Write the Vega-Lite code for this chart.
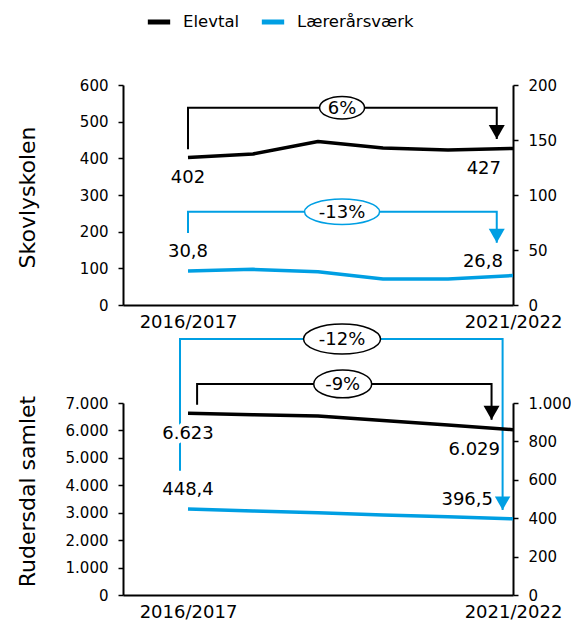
{
  "$schema": "https://vega.github.io/schema/vega-lite/v6.json",
  "padding": {"left": 16, "top": 8, "right": 0, "bottom": 0},
  "config": {
    "font": "DejaVu Sans",
    "view": {"stroke": null},
    "locale": {"number": {"decimal": ",", "thousands": ".", "grouping": [3], "currency": ["", " kr."]}},
    "axis": {"grid": false, "domainColor": "black", "tickColor": "black", "labelColor": "black", "titleColor": "black", "domainWidth": 2, "tickWidth": 1.5, "labelFontSize": 15, "titleFontSize": 22, "titleFontWeight": "normal", "tickSize": 5, "labelPadding": 10},
    "text": {"fontSize": 18, "color": "black"}
  },
  "datasets": {
    "skovly": [
      {"serie": "Elevtal", "year": 2016, "value": 402},
      {"serie": "Elevtal", "year": 2017, "value": 412},
      {"serie": "Elevtal", "year": 2018, "value": 446},
      {"serie": "Elevtal", "year": 2019, "value": 428},
      {"serie": "Elevtal", "year": 2020, "value": 423},
      {"serie": "Elevtal", "year": 2021, "value": 427},
      {"serie": "Lærerårsværk", "year": 2016, "value": 30.8},
      {"serie": "Lærerårsværk", "year": 2017, "value": 32.4},
      {"serie": "Lærerårsværk", "year": 2018, "value": 30.3},
      {"serie": "Lærerårsværk", "year": 2019, "value": 23.6},
      {"serie": "Lærerårsværk", "year": 2020, "value": 23.7},
      {"serie": "Lærerårsværk", "year": 2021, "value": 26.8}
    ],
    "ruder": [
      {"serie": "Elevtal", "year": 2016, "value": 6623},
      {"serie": "Elevtal", "year": 2017, "value": 6575},
      {"serie": "Elevtal", "year": 2018, "value": 6530},
      {"serie": "Elevtal", "year": 2019, "value": 6363},
      {"serie": "Elevtal", "year": 2020, "value": 6196},
      {"serie": "Elevtal", "year": 2021, "value": 6029},
      {"serie": "Lærerårsværk", "year": 2016, "value": 448.4},
      {"serie": "Lærerårsværk", "year": 2017, "value": 438},
      {"serie": "Lærerårsværk", "year": 2018, "value": 428},
      {"serie": "Lærerårsværk", "year": 2019, "value": 417},
      {"serie": "Lærerårsværk", "year": 2020, "value": 407},
      {"serie": "Lærerårsværk", "year": 2021, "value": 396.5}
    ]
  },
  "bounds": "flush",
  "spacing": 98,
  "vconcat": [
    {
      "width": 390,
      "height": 220,
      "encoding": {
        "x": {"field": "year", "type": "quantitative", "scale": {"domain": [2015, 2021], "nice": false, "zero": false}, "axis": {"values": [2016, 2021], "labelExpr": "datum.value + '/' + (datum.value + 1)", "ticks": false, "labelFontSize": 18, "labelPadding": 8, "title": null, "labelFlush": false, "labelOverlap": false}}
      },
      "resolve": {"scale": {"y": "independent"}},
      "layer": [
        {
          "encoding": {
            "y": {"field": "value", "type": "quantitative", "scale": {"domain": [0, 600], "nice": false}, "axis": {"orient": "left", "values": [0, 100, 200, 300, 400, 500, 600], "format": ",.0f", "labelOverlap": false, "title": "Skovlyskolen", "titleX": -96, "titleY": 112, "titleBaseline": "middle", "titleAngle": 270}}
          },
          "layer": [
            {
              "data": {"name": "skovly"},
              "transform": [{"filter": "datum.serie === 'Elevtal'"}],
              "mark": {"type": "line", "strokeWidth": 3.5, "strokeJoin": "round"},
              "encoding": {
                "color": {"field": "serie", "type": "nominal", "scale": {"domain": ["Elevtal", "Lærerårsværk"], "range": ["#000000", "#009FE3"]}, "legend": {"title": null, "orient": "none", "legendX": 22, "legendY": -77, "direction": "horizontal", "symbolType": "stroke", "symbolStrokeWidth": 5, "symbolSize": 500, "labelFontSize": 16.5, "labelColor": "black", "columnPadding": 11, "labelOffset": 10, "padding": 0}}
              }
            },
            {
              "data": {"values": [{"k": 1, "year": 2016, "value": 425}, {"k": 2, "year": 2016, "value": 538}, {"k": 3, "year": 2020.75, "value": 538}, {"k": 4, "year": 2020.75, "value": 453}]},
              "mark": {"type": "line", "color": "black", "strokeWidth": 2, "strokeJoin": "miter"},
              "encoding": {"order": {"field": "k"}}
            },
            {
              "data": {"values": [{"year": 2020.75, "value": 453}]},
              "mark": {"type": "point", "shape": "M -1 -1.75 L 1 -1.75 L 0 0 Z", "size": 256, "filled": true, "color": "black", "opacity": 1, "strokeWidth": 0},
              "encoding": {}
            },
            {
              "data": {"values": [{"year": 2018.37, "value": 538, "label": "6%"}]},
              "mark": {"type": "point", "shape": "M 1 0 C 1 0.276 0.552 0.5 0 0.5 C -0.552 0.5 -1 0.276 -1 0 C -1 -0.276 -0.552 -0.5 0 -0.5 C 0.552 -0.5 1 -0.276 1 0 Z", "size": 2025, "filled": true, "fill": "white", "stroke": "black", "strokeWidth": 1.5, "opacity": 1},
              "encoding": {}
            },
            {
              "data": {"values": [{"year": 2018.37, "value": 538, "label": "6%"}]},
              "mark": {"type": "text", "fontSize": 18, "align": "center", "baseline": "middle", "dy": 1},
              "encoding": {"text": {"field": "label"}}
            },
            {
              "data": {"name": "skovly"},
              "transform": [{"filter": "datum.serie === 'Elevtal' && datum.year === 2016"}],
              "mark": {"type": "text", "fontSize": 18, "align": "center", "baseline": "middle", "dy": 20},
              "encoding": {"text": {"field": "value", "format": ",.0f"}}
            },
            {
              "data": {"name": "skovly"},
              "transform": [{"filter": "datum.serie === 'Elevtal' && datum.year === 2021"}],
              "mark": {"type": "text", "fontSize": 18, "align": "right", "baseline": "middle", "dx": -12, "dy": 21},
              "encoding": {"text": {"field": "value", "format": ",.0f"}}
            }
          ]
        },
        {
          "encoding": {
            "y": {"field": "value", "type": "quantitative", "scale": {"domain": [0, 200], "nice": false}, "axis": {"orient": "right", "values": [0, 50, 100, 150, 200], "format": ",.0f", "labelOverlap": false, "title": null}}
          },
          "layer": [
            {
              "data": {"name": "skovly"},
              "transform": [{"filter": "datum.serie === 'Lærerårsværk'"}],
              "mark": {"type": "line", "strokeWidth": 3.5, "strokeJoin": "round"},
              "encoding": {
                "color": {"field": "serie", "type": "nominal", "scale": {"domain": ["Elevtal", "Lærerårsværk"], "range": ["#000000", "#009FE3"]}}
              }
            },
            {
              "data": {"values": [{"k": 1, "year": 2016, "value": 65.5}, {"k": 2, "year": 2016, "value": 84.8}, {"k": 3, "year": 2020.75, "value": 84.8}, {"k": 4, "year": 2020.75, "value": 56.6}]},
              "mark": {"type": "line", "color": "#009FE3", "strokeWidth": 2, "strokeJoin": "miter"},
              "encoding": {"order": {"field": "k"}}
            },
            {
              "data": {"values": [{"year": 2020.75, "value": 56.6}]},
              "mark": {"type": "point", "shape": "M -1 -1.75 L 1 -1.75 L 0 0 Z", "size": 256, "filled": true, "color": "#009FE3", "opacity": 1, "strokeWidth": 0},
              "encoding": {}
            },
            {
              "data": {"values": [{"year": 2018.37, "value": 84.8, "label": "-13%"}]},
              "mark": {"type": "point", "shape": "M 1 0 C 1 0.188 0.552 0.34 0 0.34 C -0.552 0.34 -1 0.188 -1 0 C -1 -0.188 -0.552 -0.34 0 -0.34 C 0.552 -0.34 1 -0.188 1 0 Z", "size": 5625, "filled": true, "fill": "white", "stroke": "#009FE3", "strokeWidth": 1.5, "opacity": 1},
              "encoding": {}
            },
            {
              "data": {"values": [{"year": 2018.37, "value": 84.8, "label": "-13%"}]},
              "mark": {"type": "text", "fontSize": 18, "align": "center", "baseline": "middle", "dy": 1},
              "encoding": {"text": {"field": "label"}}
            },
            {
              "data": {"name": "skovly"},
              "transform": [{"filter": "datum.serie === 'Lærerårsværk' && datum.year === 2016"}],
              "mark": {"type": "text", "fontSize": 18, "align": "center", "baseline": "middle", "dy": -19},
              "encoding": {"text": {"field": "value", "format": ",.1f"}}
            },
            {
              "data": {"name": "skovly"},
              "transform": [{"filter": "datum.serie === 'Lærerårsværk' && datum.year === 2021"}],
              "mark": {"type": "text", "fontSize": 18, "align": "right", "baseline": "middle", "dx": -10, "dy": -14},
              "encoding": {"text": {"field": "value", "format": ",.1f"}}
            }
          ]
        }
      ]
    },
    {
      "width": 390,
      "height": 192,
      "encoding": {
        "x": {"field": "year", "type": "quantitative", "scale": {"domain": [2015, 2021], "nice": false, "zero": false}, "axis": {"values": [2016, 2021], "labelExpr": "datum.value + '/' + (datum.value + 1)", "ticks": false, "labelFontSize": 18, "labelPadding": 8, "title": null, "labelFlush": false, "labelOverlap": false}}
      },
      "resolve": {"scale": {"y": "independent"}},
      "layer": [
        {
          "encoding": {
            "y": {"field": "value", "type": "quantitative", "scale": {"domain": [0, 1000], "nice": false}, "axis": {"orient": "right", "values": [0, 200, 400, 600, 800, 1000], "format": ",.0f", "labelOverlap": false, "title": null}}
          },
          "layer": [
            {
              "data": {"name": "ruder"},
              "transform": [{"filter": "datum.serie === 'Lærerårsværk'"}],
              "mark": {"type": "line", "strokeWidth": 3.5, "strokeJoin": "round"},
              "encoding": {
                "color": {"field": "serie", "type": "nominal", "scale": {"domain": ["Elevtal", "Lærerårsværk"], "range": ["#000000", "#009FE3"]}}
              }
            },
            {
              "data": {"values": [{"k": 1, "year": 2015.877, "value": 647}, {"k": 2, "year": 2015.877, "value": 1333}, {"k": 3, "year": 2020.84, "value": 1333}, {"k": 4, "year": 2020.84, "value": 443}]},
              "mark": {"type": "line", "color": "#009FE3", "strokeWidth": 2, "strokeJoin": "miter"},
              "encoding": {"order": {"field": "k"}}
            },
            {
              "data": {"values": [{"year": 2020.84, "value": 443}]},
              "mark": {"type": "point", "shape": "M -1 -1.75 L 1 -1.75 L 0 0 Z", "size": 240, "filled": true, "color": "#009FE3", "opacity": 1, "strokeWidth": 0},
              "encoding": {}
            },
            {
              "data": {"values": [{"year": 2018.37, "value": 1333, "label": "-12%"}]},
              "mark": {"type": "point", "shape": "M 1 0 C 1 0.215 0.552 0.39 0 0.39 C -0.552 0.39 -1 0.215 -1 0 C -1 -0.215 -0.552 -0.39 0 -0.39 C 0.552 -0.39 1 -0.215 1 0 Z", "size": 5929, "filled": true, "fill": "white", "stroke": "black", "strokeWidth": 1.5, "opacity": 1},
              "encoding": {}
            },
            {
              "data": {"values": [{"year": 2018.37, "value": 1333, "label": "-12%"}]},
              "mark": {"type": "text", "fontSize": 18, "align": "center", "baseline": "middle", "dy": 1},
              "encoding": {"text": {"field": "label"}}
            },
            {
              "data": {"name": "ruder"},
              "transform": [{"filter": "datum.serie === 'Lærerårsværk' && datum.year === 2016"}],
              "mark": {"type": "text", "fontSize": 18, "align": "center", "baseline": "middle", "dy": -19},
              "encoding": {"text": {"field": "value", "format": ",.1f"}}
            },
            {
              "data": {"name": "ruder"},
              "transform": [{"filter": "datum.serie === 'Lærerårsværk' && datum.year === 2021"}],
              "mark": {"type": "text", "fontSize": 18, "align": "right", "baseline": "middle", "dx": -20, "dy": -19},
              "encoding": {"text": {"field": "value", "format": ",.1f"}}
            }
          ]
        },
        {
          "encoding": {
            "y": {"field": "value", "type": "quantitative", "scale": {"domain": [0, 7000], "nice": false}, "axis": {"orient": "left", "values": [0, 1000, 2000, 3000, 4000, 5000, 6000, 7000], "format": ",.0f", "labelOverlap": false, "title": "Rudersdal samlet", "titleX": -96, "titleY": 88, "titleBaseline": "middle", "titleAngle": 270}}
          },
          "layer": [
            {
              "data": {"name": "ruder"},
              "transform": [{"filter": "datum.serie === 'Elevtal'"}],
              "mark": {"type": "line", "strokeWidth": 3.5, "strokeJoin": "round"},
              "encoding": {
                "color": {"field": "serie", "type": "nominal", "scale": {"domain": ["Elevtal", "Lærerårsværk"], "range": ["#000000", "#009FE3"]}}
              }
            },
            {
              "data": {"values": [{"k": 1, "year": 2016.14, "value": 6939}, {"k": 2, "year": 2016.14, "value": 7695}, {"k": 3, "year": 2020.67, "value": 7695}, {"k": 4, "year": 2020.67, "value": 6391}]},
              "mark": {"type": "line", "color": "black", "strokeWidth": 2, "strokeJoin": "miter"},
              "encoding": {"order": {"field": "k"}}
            },
            {
              "data": {"values": [{"year": 2020.67, "value": 6391}]},
              "mark": {"type": "point", "shape": "M -1 -1.75 L 1 -1.75 L 0 0 Z", "size": 256, "filled": true, "color": "black", "opacity": 1, "strokeWidth": 0},
              "encoding": {}
            },
            {
              "data": {"values": [{"year": 2018.38, "value": 7695, "label": "-9%"}]},
              "mark": {"type": "point", "shape": "M 1 0 C 1 0.265 0.552 0.48 0 0.48 C -0.552 0.48 -1 0.265 -1 0 C -1 -0.265 -0.552 -0.48 0 -0.48 C 0.552 -0.48 1 -0.265 1 0 Z", "size": 3364, "filled": true, "fill": "white", "stroke": "black", "strokeWidth": 1.5, "opacity": 1},
              "encoding": {}
            },
            {
              "data": {"values": [{"year": 2018.38, "value": 7695, "label": "-9%"}]},
              "mark": {"type": "text", "fontSize": 18, "align": "center", "baseline": "middle", "dy": 1},
              "encoding": {"text": {"field": "label"}}
            },
            {
              "data": {"name": "ruder"},
              "transform": [{"filter": "datum.serie === 'Elevtal' && datum.year === 2016"}],
              "mark": {"type": "text", "fontSize": 18, "align": "center", "baseline": "middle", "dy": 21, "color": "white", "stroke": "white", "strokeWidth": 9, "strokeJoin": "round"},
              "encoding": {"text": {"field": "value", "format": ",.0f"}}
            },
            {
              "data": {"name": "ruder"},
              "transform": [{"filter": "datum.serie === 'Elevtal' && datum.year === 2016"}],
              "mark": {"type": "text", "fontSize": 18, "align": "center", "baseline": "middle", "dy": 21},
              "encoding": {"text": {"field": "value", "format": ",.0f"}}
            },
            {
              "data": {"name": "ruder"},
              "transform": [{"filter": "datum.serie === 'Elevtal' && datum.year === 2021"}],
              "mark": {"type": "text", "fontSize": 18, "align": "right", "baseline": "middle", "dx": -13, "dy": 20},
              "encoding": {"text": {"field": "value", "format": ",.0f"}}
            }
          ]
        }
      ]
    }
  ]
}
